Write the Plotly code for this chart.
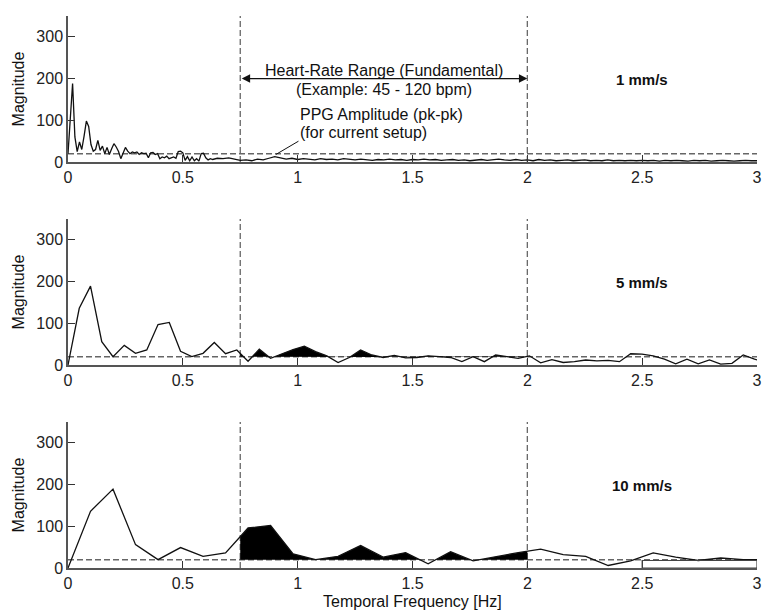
import numpy as np
import plotly.graph_objects as go

# ---------------------------------------------------------------------------
# Spectra (magnitude vs. temporal frequency) for three scan speeds
# ---------------------------------------------------------------------------

# 1 mm/s: fine bins up to 0.65 Hz, coarser bins from 0.675 Hz to 3 Hz
DF_1MM_FINE = 0.01
mag_1mm_fine = [
    20, 120, 188, 60, 25, 48, 30, 62, 98, 85,
    42, 26, 30, 52, 28, 38, 20, 35, 18, 32,
    44, 36, 25, 8, 20, 35, 26, 20, 24, 22,
    24, 18, 22, 20, 21, 10, 22, 23, 18, 20,
    8, 12, 10, 14, 8, 10, 12, 9, 25, 26,
    22, 4, 13, 3, 12, 3, 8, 2, 20, 21,
    10, 5, 8, 6, 7, 9,
]
F0_1MM_COARSE = 0.675
DF_1MM_COARSE = 0.025
mag_1mm_coarse = [
    8, 10, 7, 4, 5, 3, 7, 5, 9, 13,
    10, 7, 9, 6, 8, 7, 5, 8, 6, 7,
    5, 8, 6, 5, 7, 6, 4, 6, 5, 7,
    5, 6, 4, 6, 5, 7, 5, 6, 4, 5,
    6, 4, 5, 3, 5, 6, 4, 5, 7, 5,
    4, 6, 4, 5, 3, 6, 4, 5, 3, 4,
    5, 3, 4, 5, 3, 4, 3, 5, 3, 4,
    3, 4, 3, 4, 3, 4, 2, 4, 3, 4,
    3, 2, 4, 3, 4, 2, 3, 4, 3, 2,
    3, 4, 3, 3,
]

# 5 mm/s
DF_5MM = 0.049
mag_5mm = [
    0, 136, 189, 56, 20, 47, 28, 36, 97, 102,
    33, 20, 28, 54, 27, 36, 9, 38, 16, 27,
    37, 45, 32, 22, 6, 18, 36, 24, 18, 23,
    17, 18, 22, 20, 18, 8, 20, 8, 24, 20,
    16, 22, 5, 13, 6, 8, 12, 10, 11, 8,
    27, 26, 22, 14, 3, 14, 3, 12, 2, 4,
    24, 14, 6,
]

# 10 mm/s
DF_10MM = 0.098
mag_10mm = [
    0, 136, 189, 56, 20, 49, 28, 36, 96, 102,
    34, 20, 28, 54, 26, 37, 10, 39, 17, 27,
    37, 45, 32, 28, 6, 17, 36, 26, 18, 24,
    20, 20,
]

speed_labels = ["1 mm/s", "5 mm/s", "10 mm/s"]

# Heart-rate band (45 - 120 bpm) and PPG pk-pk amplitude for the setup
HR_LOW_HZ = 0.75
HR_HIGH_HZ = 2.0
PPG_AMPLITUDE = 20

x_ticks = [0, 0.5, 1, 1.5, 2, 2.5, 3]
x_tick_text = ["0", "0.5", "1", "1.5", "2", "2.5", "3"]
y_ticks = [0, 100, 200, 300]
y_tick_text = ["0", "100", "200", "300"]

# ---------------------------------------------------------------------------
freq_1mm = np.concatenate([
    np.arange(len(mag_1mm_fine)) * DF_1MM_FINE,
    F0_1MM_COARSE + np.arange(len(mag_1mm_coarse)) * DF_1MM_COARSE,
])
spec_1mm = np.array(mag_1mm_fine + mag_1mm_coarse, dtype=float)
freq_5mm = np.arange(len(mag_5mm)) * DF_5MM
freq_10mm = np.arange(len(mag_10mm)) * DF_10MM

spectra = [
    (freq_1mm, spec_1mm),
    (freq_5mm, np.array(mag_5mm, dtype=float)),
    (freq_10mm, np.array(mag_10mm, dtype=float)),
]


def excess_band(xs, ys, lo, hi, level):
    """Polygon of the curve's excess above `level`, restricted to [lo, hi]."""
    pts = [lo, hi]
    pts += [x for x in xs if lo < x < hi]
    for i in range(len(xs) - 1):
        y0, y1 = ys[i] - level, ys[i + 1] - level
        if y0 * y1 < 0:
            xc = xs[i] + (-y0) * (xs[i + 1] - xs[i]) / (ys[i + 1] - ys[i])
            if lo < xc < hi:
                pts.append(xc)
    pts = np.array(sorted(pts))
    upper = np.maximum(np.interp(pts, xs, ys), level)
    px = np.concatenate([pts, pts[::-1]])
    py = np.concatenate([upper, np.full(len(pts), level)])
    return px, py


FONT = "Liberation Sans, Arial, Helvetica, sans-serif"
INK = "#111111"
AXIS = "#555555"
DASH_COLOR = "#666666"
DASH = "6px,3px"
TEXT_SIZE = 16

# panel geometry (paper fractions): top, middle, bottom
H = 552.0
domains = [[406 / H, 1.0], [203 / H, 349 / H], [0.0, 146 / H]]

fig = go.Figure()
shapes = []
annotations = []

for k, ((fx, fy), dom, label) in enumerate(zip(spectra, domains, speed_labels)):
    n = "" if k == 0 else str(k + 1)
    xa, ya = "x" + n, "y" + n

    # shaded excess inside the heart-rate band
    bx, by = excess_band(fx, fy, HR_LOW_HZ, HR_HIGH_HZ, PPG_AMPLITUDE)
    fig.add_trace(go.Scatter(
        x=bx, y=by, xaxis=xa, yaxis=ya, mode="lines", fill="toself",
        fillcolor="#000000", line=dict(width=0, color="#000000"),
        hoverinfo="skip", showlegend=False,
    ))
    # magnitude spectrum
    fig.add_trace(go.Scatter(
        x=fx, y=fy, xaxis=xa, yaxis=ya, mode="lines",
        line=dict(color=INK, width=1.3), showlegend=False,
    ))

    # PPG amplitude reference and heart-rate band limits
    shapes.append(dict(type="line", xref=xa, yref=ya, x0=0, x1=3,
                       y0=PPG_AMPLITUDE, y1=PPG_AMPLITUDE, layer="below",
                       line=dict(color=DASH_COLOR, width=1.5, dash=DASH)))
    for fx_lim in (HR_LOW_HZ, HR_HIGH_HZ):
        shapes.append(dict(type="line", xref=xa, yref=ya + " domain",
                           x0=fx_lim, x1=fx_lim, y0=0, y1=1, layer="below",
                           line=dict(color=DASH_COLOR, width=1.3, dash=DASH)))

    axis_common = dict(
        showgrid=False, zeroline=False, showline=True, linecolor=AXIS,
        linewidth=1.5, ticks="inside", ticklen=7, tickwidth=1,
        tickcolor="#333333",
        tickfont=dict(family=FONT, size=TEXT_SIZE, color="#222222"),
    )
    fig.update_layout(**{
        ("xaxis" + n): dict(domain=[0, 1], anchor=ya, range=[0, 3],
                            tickmode="array", tickvals=x_ticks,
                            ticktext=x_tick_text, **axis_common),
        ("yaxis" + n): dict(domain=dom, anchor=xa, range=[0, 350],
                            tickmode="array", tickvals=y_ticks,
                            ticktext=y_tick_text, **axis_common),
    })

    annotations.append(dict(
        text="<b>" + label + "</b>", xref=xa, yref=ya, x=2.5, y=197,
        showarrow=False, font=dict(family=FONT, size=15, color=INK),
    ))
    annotations.append(dict(
        text="Magnitude", xref="paper", yref="paper", x=-0.072,
        y=(dom[0] + dom[1]) / 2, textangle=-90, showarrow=False,
        xanchor="center", yanchor="middle",
        font=dict(family=FONT, size=TEXT_SIZE, color=INK),
    ))

# heart-rate range arrow and its labels (top panel)
annotations.append(dict(
    text="", xref="x", yref="y", axref="x", ayref="y",
    x=HR_HIGH_HZ, y=200, ax=HR_LOW_HZ, ay=200,
    showarrow=True, arrowhead=2, startarrowhead=2, arrowside="end+start",
    arrowsize=1.4, startarrowsize=1.4, arrowwidth=1.2, arrowcolor=INK,
))
mid_band = (HR_LOW_HZ + HR_HIGH_HZ) / 2
annotations.append(dict(
    text="Heart-Rate Range (Fundamental)", xref="x", yref="y",
    x=mid_band, y=220, showarrow=False,
    font=dict(family=FONT, size=TEXT_SIZE, color=INK),
))
annotations.append(dict(
    text="(Example: 45 - 120 bpm)", xref="x", yref="y",
    x=mid_band, y=174, showarrow=False,
    font=dict(family=FONT, size=TEXT_SIZE, color=INK),
))
annotations.append(dict(
    text="PPG Amplitude (pk-pk)", xref="x", yref="y",
    x=1.0, y=113, xanchor="left", showarrow=False,
    font=dict(family=FONT, size=TEXT_SIZE, color=INK),
))
annotations.append(dict(
    text="(for current setup)", xref="x", yref="y",
    x=1.0, y=70, xanchor="left", showarrow=False,
    font=dict(family=FONT, size=TEXT_SIZE, color=INK),
))
annotations.append(dict(
    text="", xref="x", yref="y", axref="x", ayref="y",
    x=0.905, y=PPG_AMPLITUDE - 2, ax=1.01, ay=52,
    showarrow=True, arrowhead=0, arrowwidth=1, arrowcolor=INK,
))

# common x-axis title
annotations.append(dict(
    text="Temporal Frequency [Hz]", xref="paper", yref="paper",
    x=0.5, y=-33 / H, xanchor="center", yanchor="middle", showarrow=False,
    font=dict(family=FONT, size=TEXT_SIZE, color=INK),
))

# outlined box at the lower right of the bottom panel
shapes.append(dict(type="rect", xref="x3", yref="y3", x0=2.5, x1=3,
                   y0=0, y1=18, line=dict(color="#444444", width=1.2)))

fig.update_layout(
    width=768, height=610,
    margin=dict(l=68, r=6, t=16, b=42),
    paper_bgcolor="white", plot_bgcolor="white",
    shapes=shapes, annotations=annotations,
    showlegend=False,
    font=dict(family=FONT, size=TEXT_SIZE, color=INK),
)

fig.write_html("out.html")
